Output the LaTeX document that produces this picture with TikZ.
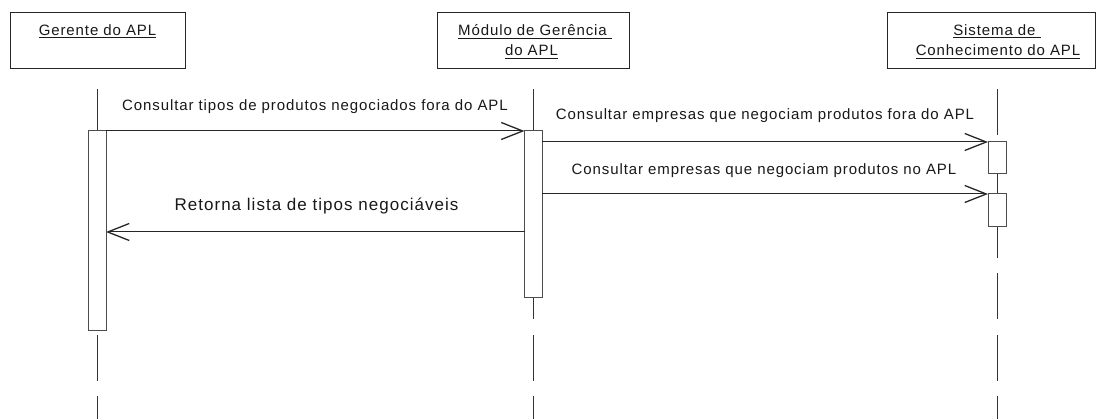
\documentclass[tikz,border=0pt]{standalone}
\usepackage{fontspec}
\setmainfont{Liberation Sans}[LetterSpace=6]
\usetikzlibrary{arrows.meta,calc}
\newcommand\ulbox[1]{\setbox0\hbox{#1}\rlap{\rule[-2.8pt]{\wd0}{1.1pt}}\box0}
\begin{document}
\begin{tikzpicture}[x=1pt,y=-1pt,
  frame/.style={draw=black!85, line width=1pt, fill=white, inner sep=0pt, outer sep=0pt},
  hdr/.style={frame, anchor=north west, minimum height=56pt},
  act/.style={frame, draw=black!70, anchor=north west},
  lbl/.style={font=\fontsize{15}{18}\selectfont, inner sep=0pt, anchor=base, text=black!90},
  lifeline/.style={draw=black!80, line width=0.9pt, dash pattern=on 46pt off 15.5pt},
  msg/.style={draw=black!85, line width=1pt, -{Straight Barb[length=21.5pt,width=17pt,line width=1.3pt]}}
]
\useasboundingbox (0,0) rectangle (1096,419);
\fill[white] (0,0) rectangle (1096,419);

% header boxes
\node[hdr, minimum width=175pt] (h1) at (10,13) {};
\node[hdr, minimum width=192pt] (h2) at (437,13) {};
\node[hdr, minimum width=208pt] (h3) at (887,13) {};

\node[lbl] (t1) at (97.5,35.5) {\ulbox{Gerente do APL}};
\node[lbl] (t2a) at (535,36) {\ulbox{Módulo de Gerência\ }};
\node[lbl] (t2b) at (531.5,56) {\ulbox{do APL}};
\node[lbl] (t3a) at (997,35.5) {\ulbox{Sistema de\ }};
\node[lbl] (t3b) at (998,56) {\ulbox{Conhecimento do APL}};

% lifelines
\coordinate (l1s) at (97,89);  \coordinate (l1e) at (97,419);
\coordinate (l2s) at (533,89); \coordinate (l2e) at (533,419);
\coordinate (l3s) at (997,89); \coordinate (l3e) at (997,419);
\draw[lifeline] (l1s) -- (l1e);
\draw[lifeline] (l2s) -- (l2e);
\draw[lifeline] (l3s) -- (l3e);

% activations
\node[act, minimum width=18pt, minimum height=200pt] (a1) at (88,131) {};
\node[act, minimum width=17.5pt, minimum height=167pt] (a2) at (524.5,131) {};
\node[act, minimum width=18pt, minimum height=32pt] (a3) at (988,142) {};
\node[act, minimum width=18pt, minimum height=33pt] (a4) at (988,194) {};

% messages
\draw[msg] (a1.north east) -- (a2.north west);
\draw[msg] (a2.east |- a3.north) -- (a3.north west);
\draw[msg] (a2.east |- a4.north) -- (a4.north west);
\coordinate (r) at (0,232);
\draw[msg] (a2.west |- r) -- (a1.east |- r);

% labels
\node[lbl] (m1) at (315,111) {Consultar tipos de produtos negociados fora do APL};
\node[lbl] (m2) at (765,120) {Consultar empresas que negociam produtos fora do APL};
\node[lbl] (m3) at (764,175) {Consultar empresas que negociam produtos no APL};
\node[lbl, font=\fontsize{17}{20}\selectfont] (m4) at (316.5,210.5) {Retorna lista de tipos negociáveis};
\end{tikzpicture}
\end{document}
